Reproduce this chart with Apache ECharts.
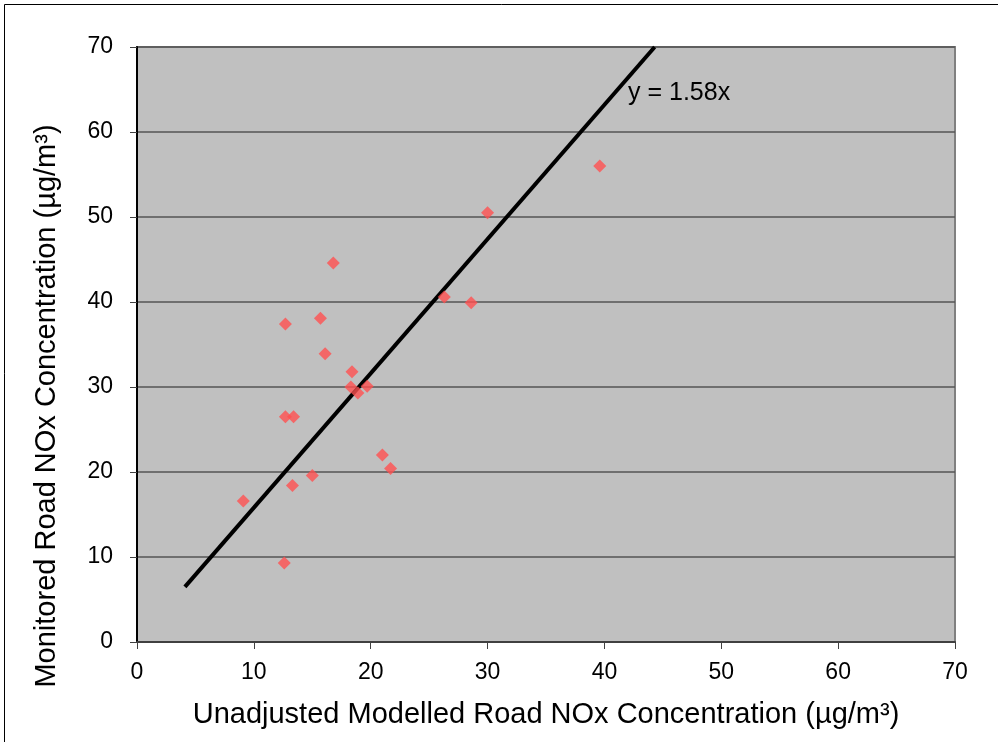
<!DOCTYPE html>
<html><head><meta charset="utf-8">
<script src="https://cdn.jsdelivr.net/npm/echarts@6/dist/echarts.min.js"></script>
<style>html,body{margin:0;padding:0;background:#fff}#c{width:998px;height:742px}</style>
</head><body><div id="c"></div>
<script>
const modelled = [16.8,12.7,15.7,16.1,18.4,18.3,19.7,18.9,12.7,13.4,21.0,21.7,15.0,13.3,9.1,12.6,39.6,30.0,26.3,28.6];
const monitored = [44.6,37.4,38.1,33.9,31.8,30.0,30.1,29.3,26.5,26.5,22.0,20.4,19.6,18.4,16.6,9.3,56.0,50.5,40.6,39.9];
const trendX = [4.1, 44.3];
const trendY = [6.48, 70];
const trendLabel = 'y = 1.58x';
const xTitle = 'Unadjusted Modelled Road NOx Concentration (µg/m³)';
const yTitle = 'Monitored Road NOx Concentration (µg/m³)';

const chart = echarts.init(document.getElementById('c'), null, {renderer:'canvas'});
const font = 'Liberation Sans, Arial, sans-serif';
chart.setOption({
  animation:false,
  backgroundColor:'#fff',
  grid:{left:137,top:47,right:43,bottom:100,show:true,backgroundColor:'#C0C0C0',borderColor:'#808080',borderWidth:2},
  xAxis:{type:'value',min:0,max:70,interval:10,
    name:xTitle,nameLocation:'middle',nameGap:58,
    nameTextStyle:{fontFamily:font,fontSize:29,color:'#000'},
    axisLine:{show:true,onZero:false,lineStyle:{color:'#404040',width:2}},
    axisTick:{show:true,length:7,lineStyle:{color:'#404040',width:1}},
    axisLabel:{fontFamily:font,fontSize:23,color:'#000',margin:19},
    splitLine:{show:false}},
  yAxis:{type:'value',min:0,max:70,interval:10,
    axisLine:{show:true,onZero:false,lineStyle:{color:'#000',width:2}},
    axisTick:{show:true,length:7,lineStyle:{color:'#404040',width:1}},
    axisLabel:{fontFamily:font,fontSize:23,color:'#000',margin:24},
    splitLine:{show:true,lineStyle:{color:'#555',width:1.5}}},
  series:[
    {type:'line',data:trendX.map((x,i)=>[x,trendY[i]]),symbol:'none',
     lineStyle:{color:'#000',width:4},z:2},
    {type:'scatter',data:modelled.map((x,i)=>[x,monitored[i]]),symbol:'diamond',symbolSize:13,
     itemStyle:{color:'#FF5050'},z:3}
  ],
  graphic:[
    {type:'rect',shape:{x:4.5,y:4.5,width:1100,height:900},style:{fill:'none',stroke:'#000',lineWidth:1},silent:true},
    {type:'text',left:628,top:81,style:{text:trendLabel,font:'25px '+font,fill:'#000'}},
    {type:'text',x:47,y:406,rotation:Math.PI/2,
     style:{text:yTitle,font:'29px '+font,fill:'#000',align:'center',verticalAlign:'middle'}}
  ]
});
</script></body></html>
